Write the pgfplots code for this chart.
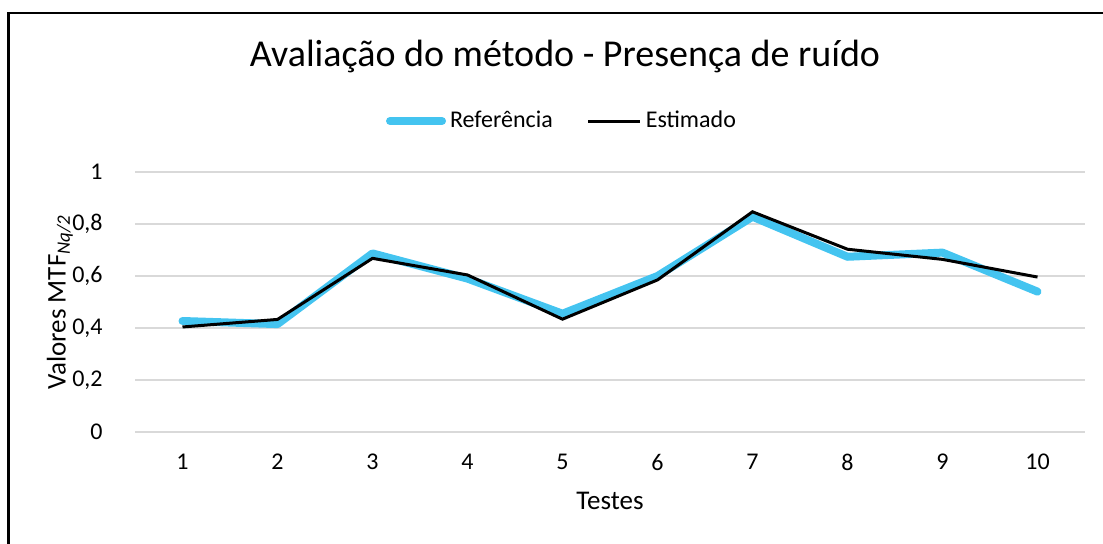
\documentclass[border=0pt]{standalone}
\usepackage{fontspec}
\setmainfont{Carlito}
\usepackage{pgfplots}
\pgfplotsset{compat=1.18}
\definecolor{refblue}{HTML}{44C4F0}
\definecolor{gridgray}{HTML}{D9D9D9}

\begin{document}
\begin{tikzpicture}
\useasboundingbox (0pt,0pt) rectangle (551.5pt,-271.5pt);
\draw[line width=1.2pt] (4.3pt,-300pt) -- (4.3pt,-6.5pt) -- (560pt,-6.5pt);
\begin{axis}[
  at={(67.5pt,-216pt)}, anchor=south west,
  scale only axis,
  width=475pt, height=130pt,
  xmin=0.5, xmax=10.5,
  ymin=0, ymax=1,
  xtick={1,...,10},
  ytick={0,0.2,0.4,0.6,0.8,1},
  axis line style={draw=none},
  major tick length=0pt,
  ymajorgrids=true,
  grid style={gridgray, line width=0.75pt},
  /pgf/number format/.cd, use comma, assume math mode=true,
  /pgfplots/.cd,
  ticklabel style={font=\fontsize{12}{14}\selectfont},
  xticklabel style={anchor=center, yshift=-15pt},
  yticklabel style={anchor=east, inner sep=0pt, xshift=-16pt},
  title={Avaliação do método - Presença de ruído},
  title style={at={(axis description cs:0.4526,1.40)}, anchor=center,
    font=\fontsize{19}{22}\selectfont},
  xlabel={Testes},
  xlabel style={at={(axis description cs:0.5,-0.265)}, anchor=center,
    font=\fontsize{13.5}{16}\selectfont},
  ylabel={Valores MTF\textsubscript{\itshape Nq/2}},
  ylabel style={at={(axis description cs:-0.079,0.5)}, anchor=center,
    font=\fontsize{13.5}{16}\selectfont},
  legend columns=2,
  legend style={draw=none, fill=none, at={(axis description cs:0.4505,1.196)},
    anchor=center, font=\fontsize{12}{14}\selectfont,
    /tikz/every even column/.append style={column sep=15pt},
    inner sep=0pt},
  legend image code/.code={\draw[#1] (0pt,0pt) -- (26pt,0pt);},
]
\addplot[refblue, line width=4pt, line cap=round, line join=round] coordinates {
  (1,0.427) (2,0.415) (3,0.687) (4,0.590) (5,0.455)
  (6,0.600) (7,0.828) (8,0.674) (9,0.690) (10,0.540)
};
\addlegendentry{Referência}
\addplot[black, line width=1.5pt] coordinates {
  (1,0.404) (2,0.433) (3,0.668) (4,0.604) (5,0.434)
  (6,0.585) (7,0.847) (8,0.703) (9,0.664) (10,0.596)
};
\addlegendentry{Estimado}
\end{axis}
\end{tikzpicture}
\end{document}
